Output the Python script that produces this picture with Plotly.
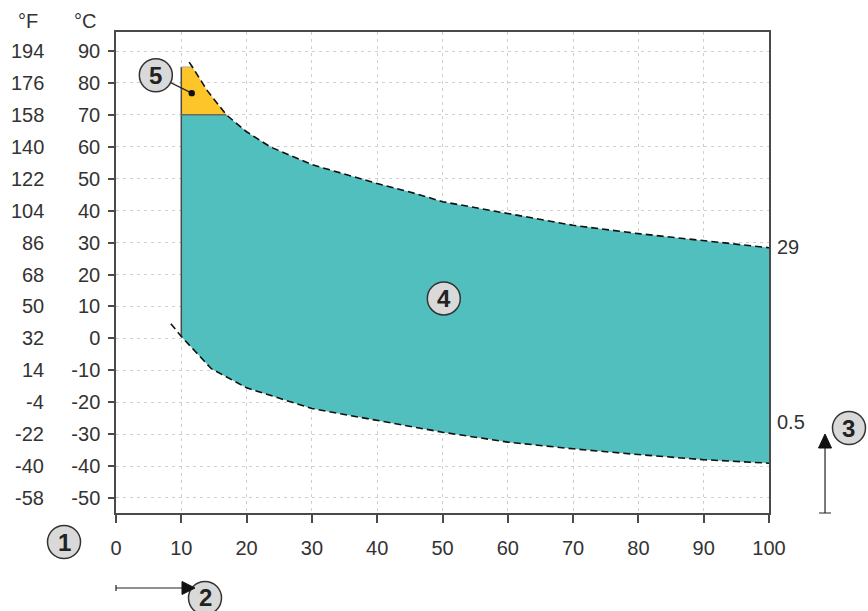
import plotly.graph_objects as go

# ---------------- data ----------------
upper_x = [11.2, 11.7, 14.0, 16.9, 20, 23.6, 30, 40, 46.3, 50, 60, 70, 80, 90, 100]
upper_y = [86.5, 85.0, 77.5, 70.0, 64.7, 60.0, 54.4, 48.5, 45.1, 42.8, 39.1, 35.4, 32.8, 30.5, 28.4]
lower_x = [8.4, 10, 14.6, 20, 30, 40, 50, 60, 70, 80, 90, 100]
lower_y = [4.6, 0.6, -9.5, -15.5, -22.0, -25.7, -29.4, -32.5, -34.6, -36.4, -38.0, -39.1]
region_start = 10
teal_cap = 70
orange_top = 85

x_ticks = [0, 10, 20, 30, 40, 50, 60, 70, 80, 90, 100]
c_ticks = [90, 80, 70, 60, 50, 40, 30, 20, 10, 0, -10, -20, -30, -40, -50]
c_labels = ["90", "80", "70", "60", "50", "40", "30", "20", "10", "0", "-10", "-20", "-30", "-40", "-50"]
f_labels = ["194", "176", "158", "140", "122", "104", "86", "68", "50", "32", "14", "-4", "-22", "-40", "-58"]
end_labels = [("29", 28.5), ("0.5", -26.3)]

TEAL = "#50BFBD"
ORANGE = "#FDC52A"
DARK = "#4a4a4a"
TXT = "#333333"
FONT = "Liberation Sans, Arial, sans-serif"

fig = go.Figure()

# teal polygon
low_start = lower_y[lower_x.index(region_start)]
tx = [region_start, region_start]
ty = [low_start, teal_cap]
for x, y in zip(upper_x, upper_y):
    if y <= teal_cap:
        tx.append(x); ty.append(y)
lx = [x for x in lower_x if x >= region_start]
ly = [y for x, y in zip(lower_x, lower_y) if x >= region_start]
tx += lx[::-1]
ty += ly[::-1]
fig.add_trace(go.Scatter(x=tx, y=ty, fill="toself", fillcolor=TEAL, mode="lines",
                         line=dict(width=0), hoverinfo="skip", showlegend=False))

# orange polygon
ox = [region_start, region_start]
oy = [teal_cap, orange_top]
for x, y in zip(upper_x, upper_y):
    if teal_cap <= y <= orange_top:
        ox.append(x); oy.append(y)
fig.add_trace(go.Scatter(x=ox, y=oy, fill="toself", fillcolor=ORANGE, mode="lines",
                         line=dict(width=0), hoverinfo="skip", showlegend=False))

# border lines
fig.add_trace(go.Scatter(x=[region_start, region_start], y=[low_start, orange_top], mode="lines",
                         line=dict(color=DARK, width=1.5), hoverinfo="skip", showlegend=False))
cap_end = [x for x, y in zip(upper_x, upper_y) if y == teal_cap][0]
fig.add_trace(go.Scatter(x=[region_start, cap_end], y=[teal_cap, teal_cap], mode="lines",
                         line=dict(color="#6a6a5a", width=1.5), hoverinfo="skip", showlegend=False))
top_end = [x for x, y in zip(upper_x, upper_y) if y == orange_top][0]
fig.add_trace(go.Scatter(x=[region_start, top_end], y=[orange_top, orange_top], mode="lines",
                         line=dict(color="#aaaaaa", width=1), hoverinfo="skip", showlegend=False))

# dashed limit curves
for xs, ys in [(upper_x, upper_y), (lower_x, lower_y)]:
    fig.add_trace(go.Scatter(x=xs, y=ys, mode="lines",
                             line=dict(color="#111111", width=1.6, dash="7px,4px"),
                             hoverinfo="skip", showlegend=False))

shapes = []
annos = []


def badge(x, y, text, xref="x", yref="y"):
    shapes.append(dict(type="circle", xref=xref, yref=yref, xsizemode="pixel", ysizemode="pixel",
                       xanchor=x, yanchor=y, x0=-16.5, x1=16.5, y0=-16.5, y1=16.5,
                       fillcolor="#d9d9d9", line=dict(color="#333333", width=1.5), layer="above"))
    annos.append(dict(x=x, y=y, xref=xref, yref=yref, text="<b>%s</b>" % text, showarrow=False,
                      font=dict(family=FONT, size=24, color="#222222"), xanchor="center", yanchor="middle"))


# leader line for badge 5
b5 = (6.1, 82.4)
dot5 = (11.6, 76.8)
shapes.append(dict(type="line", xref="x", yref="y", x0=b5[0], y0=b5[1], x1=dot5[0], y1=dot5[1],
                   line=dict(color="#222222", width=1.2), layer="above"))
shapes.append(dict(type="circle", xref="x", yref="y", xsizemode="pixel", ysizemode="pixel",
                   xanchor=dot5[0], yanchor=dot5[1], x0=-3.2, x1=3.2, y0=-3.2, y1=3.2,
                   fillcolor="#111111", line=dict(width=0), layer="above"))
badge(b5[0], b5[1], "5")
badge(50.2, 12.5, "4")
badge(-0.0796, -0.0603, "1", "paper", "paper")
badge(0.1363, -0.1767, "2", "paper", "paper")
badge(1.1225, 0.1767, "3", "paper", "paper")

# arrows
shapes.append(dict(type="path", xref="paper", yref="paper", xsizemode="pixel", ysizemode="pixel",
                   xanchor=0, yanchor=-0.1559,
                   path="M0,-3 L0,3 M0,0 L68,0",
                   line=dict(color="#222222", width=1.2), layer="above"))
shapes.append(dict(type="path", xref="paper", yref="paper", xsizemode="pixel", ysizemode="pixel",
                   xanchor=0, yanchor=-0.1559,
                   path="M66,-6.5 L79,0 L66,6.5 Z", fillcolor="#111111",
                   line=dict(color="#111111", width=1), layer="above"))
shapes.append(dict(type="path", xref="paper", yref="paper", xsizemode="pixel", ysizemode="pixel",
                   xanchor=1.0858, yanchor=0,
                   path="M-6,0 L6,0 M0,0 L0,66",
                   line=dict(color="#222222", width=1.2), layer="above"))
shapes.append(dict(type="path", xref="paper", yref="paper", xsizemode="pixel", ysizemode="pixel",
                   xanchor=1.0858, yanchor=0,
                   path="M-6.5,65 L0,79 L6.5,65 Z", fillcolor="#111111",
                   line=dict(color="#111111", width=1), layer="above"))

# Fahrenheit column and headers
for c, f in zip(c_ticks, f_labels):
    annos.append(dict(x=0, y=c, xref="paper", yref="y", text=f, showarrow=False, xanchor="right",
                      yanchor="middle", xshift=-70, font=dict(family=FONT, size=20, color=TXT)))
annos.append(dict(x=0, y=1, xref="paper", yref="paper", text="°F", showarrow=False, xanchor="right",
                  yanchor="middle", xshift=-76, yshift=11, font=dict(family=FONT, size=20, color=TXT)))
annos.append(dict(x=0, y=1, xref="paper", yref="paper", text="°C", showarrow=False, xanchor="right",
                  yanchor="middle", xshift=-18, yshift=11, font=dict(family=FONT, size=20, color=TXT)))
for t, yv in end_labels:
    annos.append(dict(x=100, y=yv, xref="x", yref="y", text=t, showarrow=False, xanchor="left",
                      yanchor="middle", xshift=6, font=dict(family=FONT, size=20, color=TXT)))

fig.update_layout(
    width=868, height=611,
    margin=dict(l=116, r=99, t=32, b=98),
    paper_bgcolor="white", plot_bgcolor="white",
    shapes=shapes, annotations=annos,
    font=dict(family=FONT, size=20, color=TXT),
    xaxis=dict(range=[0, 100], tickvals=x_ticks, ticks="outside", ticklen=8, tickwidth=1.5,
               tickcolor=DARK, showline=True, linecolor=DARK, linewidth=1.5, mirror=True,
               showgrid=True, gridcolor="#cfcfcf", griddash="3px,4px", gridwidth=1,
               zeroline=False, ticklabelstandoff=8, fixedrange=True),
    yaxis=dict(range=[-54.7, 95.95], tickvals=c_ticks, ticktext=c_labels, ticks="outside", ticklen=6,
               tickwidth=1.5, tickcolor=DARK, showline=True, linecolor=DARK, linewidth=1.5, mirror=True,
               showgrid=True, gridcolor="#cfcfcf", griddash="3px,4px", gridwidth=1,
               zeroline=False, ticklabelstandoff=4, fixedrange=True),
)

fig.write_html("out.html", config={"displayModeBar": False},
               post_script="document.body.style.margin='0';document.body.style.overflow='hidden';")
